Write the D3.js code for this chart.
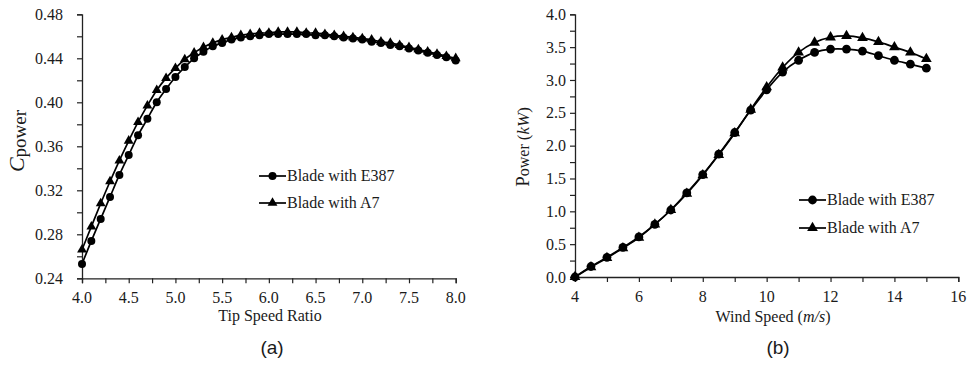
<!DOCTYPE html>
<html><head><meta charset="utf-8">
<script src="https://cdn.jsdelivr.net/npm/d3@7"></script>
<style>
body{margin:0;background:#fff;}
svg{display:block;}
text{fill:#1a1a1a;}
</style></head>
<body>
<svg id="c" width="969" height="365" font-family="'Liberation Serif','Times New Roman',serif"></svg>
<script>
// ---- Data ----
const tsr = [4.0,4.1,4.2,4.3,4.4,4.5,4.6,4.7,4.8,4.9,5.0,5.1,5.2,5.3,5.4,5.5,5.6,5.7,5.8,5.9,6.0,6.1,6.2,6.3,6.4,6.5,6.6,6.7,6.8,6.9,7.0,7.1,7.2,7.3,7.4,7.5,7.6,7.7,7.8,7.9,8.0];
const cpE387 = [0.253,0.274,0.294,0.314,0.334,0.352,0.370,0.385,0.400,0.412,0.423,0.432,0.440,0.446,0.451,0.454,0.457,0.459,0.460,0.461,0.462,0.462,0.462,0.462,0.462,0.461,0.461,0.460,0.459,0.458,0.457,0.455,0.454,0.452,0.451,0.449,0.447,0.445,0.443,0.441,0.438];
const cpA7 = [0.266,0.287,0.308,0.328,0.347,0.365,0.382,0.397,0.411,0.422,0.431,0.439,0.445,0.450,0.454,0.457,0.459,0.461,0.462,0.463,0.463,0.464,0.464,0.464,0.463,0.463,0.462,0.461,0.460,0.459,0.458,0.457,0.455,0.454,0.452,0.450,0.448,0.446,0.444,0.442,0.440];
const windSpeed = [4,4.5,5,5.5,6,6.5,7,7.5,8,8.5,9,9.5,10,10.5,11,11.5,12,12.5,13,13.5,14,14.5,15];
const powE387 = [0,0.16,0.30,0.45,0.61,0.80,1.02,1.28,1.56,1.87,2.20,2.54,2.85,3.12,3.30,3.42,3.47,3.47,3.44,3.37,3.30,3.24,3.18];
const powA7 = [0,0.15,0.29,0.44,0.60,0.80,1.02,1.27,1.55,1.86,2.19,2.55,2.89,3.19,3.42,3.57,3.65,3.67,3.64,3.58,3.50,3.42,3.32];
const seriesNames = ["Blade with E387","Blade with A7"];
const cpYTicks = [0.24,0.28,0.32,0.36,0.40,0.44,0.48];
const tsrTicks = [4.0,4.5,5.0,5.5,6.0,6.5,7.0,7.5,8.0];
const powYTicks = [0.0,0.5,1.0,1.5,2.0,2.5,3.0,3.5,4.0];
const windTicks = [4,6,8,10,12,14,16];

const svg = d3.select("#c");
const serif = "'Liberation Serif','Times New Roman',serif";
const sans = "'Liberation Sans',Arial,sans-serif";

function panel(o){
  const g = svg.append("g");
  const x = d3.scaleLinear().domain(o.xDomain).range([o.left,o.right]);
  const y = d3.scaleLinear().domain(o.yDomain).range([o.bottom,o.top]);
  const xAll = d3.range(o.xDomain[0], o.xDomain[1]+1e-9, o.xMinor);
  const yAll = d3.range(o.yDomain[0], o.yDomain[1]+1e-9, o.yMinor);
  const xa = g.append("g").attr("transform",`translate(0,${o.bottom})`)
    .call(d3.axisBottom(x).tickValues(xAll).tickSize(5).tickFormat(""));
  const ya = g.append("g").attr("transform",`translate(${o.left},0)`)
    .call(d3.axisLeft(y).tickValues(yAll).tickSize(5).tickFormat(""));
  [xa,ya].forEach(a=>{a.select(".domain").attr("stroke","#222").attr("stroke-width",1.3);
    a.selectAll(".tick line").attr("stroke","#222").attr("stroke-width",1.2);});
  const lab = g.append("g").attr("font-family",serif).attr("font-size",16);
  lab.selectAll(null).data(o.xTicks).join("text")
    .attr("x",d=>x(d)).attr("y",o.bottom+25).attr("text-anchor","middle")
    .style("font-family",serif).style("font-size","16px").text(o.xFmt);
  lab.selectAll(null).data(o.yTicks).join("text")
    .attr("x",o.left-o.yPad).attr("y",d=>y(d)).attr("dy","0.35em").attr("text-anchor","end")
    .style("font-family",serif).style("font-size","16px").text(o.yFmt);
  const line = d3.line().x(d=>x(d[0])).y(d=>y(d[1])).curve(d3.curveCatmullRom.alpha(0.5));
  const tri = d3.symbol().type(d3.symbolTriangle).size(o.triSize);
  o.series.forEach((s,i)=>{
    const pts = o.xs.map((v,j)=>[v,s[j]]);
    g.append("path").datum(pts).attr("d",line).attr("fill","none").attr("stroke","#000").attr("stroke-width",1.7);
    if(i===0){
      g.selectAll(null).data(pts).join("circle").attr("cx",d=>x(d[0])).attr("cy",d=>y(d[1])).attr("r",o.r).attr("fill","#000");
    } else {
      g.selectAll(null).data(pts).join("path").attr("d",tri).attr("transform",d=>`translate(${x(d[0])},${y(d[1])})`).attr("fill","#000");
    }
  });
  o.legend.forEach((L,i)=>{
    const lg = g.append("g");
    lg.append("line").attr("x1",L.x1).attr("x2",L.x2).attr("y1",L.my).attr("y2",L.my).attr("stroke","#000").attr("stroke-width",1.7);
    const cx=(L.x1+L.x2)/2;
    if(i===0) lg.append("circle").attr("cx",cx).attr("cy",L.my).attr("r",o.r).attr("fill","#000");
    else lg.append("path").attr("d",tri).attr("transform",`translate(${cx},${L.my})`).attr("fill","#000");
    lg.append("text").attr("x",L.x2+1).attr("y",L.by).style("font-family",serif).style("font-size","16px").text(seriesNames[i]);
  });
  return {x,y,g};
}

panel({left:82,right:455.7,top:14.3,bottom:278.3,xDomain:[4,8],yDomain:[0.24,0.48],
  xMinor:0.25,yMinor:0.02,xTicks:tsrTicks,yTicks:cpYTicks,xFmt:d3.format(".1f"),yFmt:d3.format(".2f"),yPad:19,
  xs:tsr,series:[cpE387,cpA7],r:4,triSize:42,
  legend:[{x1:259,x2:286,my:176,by:181},{x1:259,x2:286,my:203,by:208}]});
panel({left:575,right:958.3,top:14.3,bottom:277,xDomain:[4,16],yDomain:[0,4],
  xMinor:1,yMinor:0.25,xTicks:windTicks,yTicks:powYTicks,xFmt:d3.format("d"),yFmt:d3.format(".1f"),yPad:9,
  xs:windSpeed,series:[powE387,powA7],r:4.4,triSize:50,
  legend:[{x1:799,x2:826,my:200,by:204.5},{x1:799,x2:826,my:228,by:233}]});

svg.append("text").attr("x",270).attr("y",321).attr("text-anchor","middle")
  .style("font-family",serif).style("font-size","16px").text("Tip Speed Ratio");
const wt = svg.append("text").attr("x",773).attr("y",321.5).attr("text-anchor","middle")
  .style("font-family",serif).style("font-size","16px");
wt.append("tspan").text("Wind Speed (");
wt.append("tspan").style("font-style","italic").text("m/s");
wt.append("tspan").text(")");

const cy = svg.append("text").attr("transform","translate(24,141) rotate(-90)").attr("text-anchor","middle")
  .style("font-family",serif);
cy.append("tspan").style("font-style","italic").style("font-size","22px").text("C");
cy.append("tspan").style("font-size","19px").attr("dy",2).text("power");

const py = svg.append("text").attr("transform","translate(529,147) rotate(-90)").attr("text-anchor","middle")
  .style("font-family",serif);
py.append("tspan").style("font-size","19px").text("P");
py.append("tspan").style("font-size","16px").text("ower ");
py.append("tspan").style("font-size","17px").text("(");
py.append("tspan").style("font-size","17px").style("font-style","italic").text("kW");
py.append("tspan").style("font-size","17px").text(")");

svg.append("text").attr("x",272).attr("y",354).attr("text-anchor","middle")
  .style("font-family",sans).style("font-size","19px").text("(a)");
svg.append("text").attr("x",778).attr("y",354).attr("text-anchor","middle")
  .style("font-family",sans).style("font-size","19px").text("(b)");
</script>
</body></html>
